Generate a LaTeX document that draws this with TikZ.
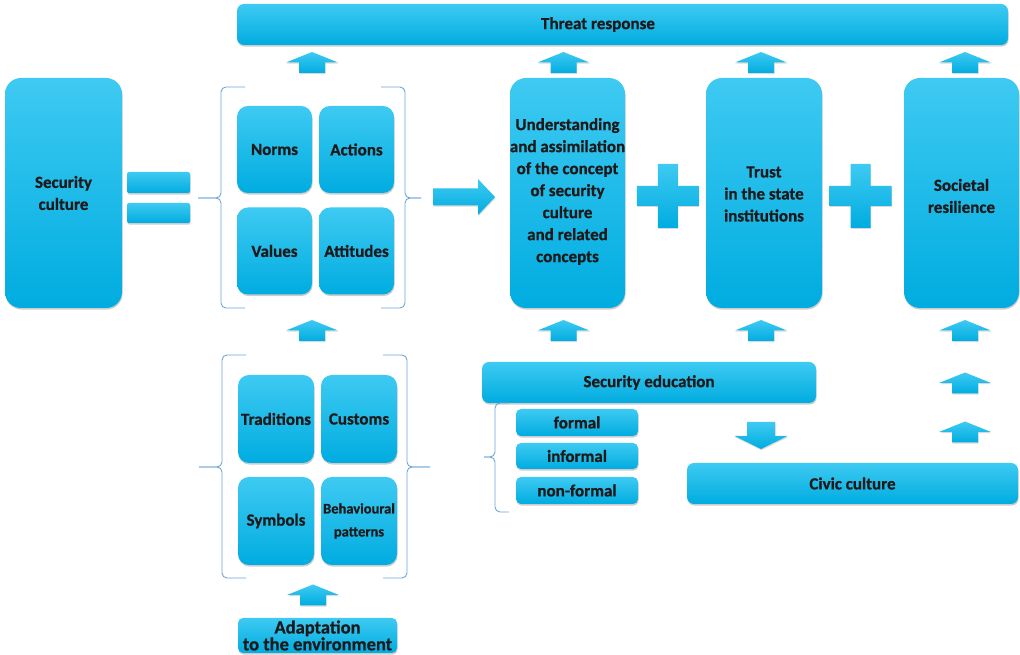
\documentclass[tikz,border=0pt]{standalone}
\usepackage{fontspec}
\setmainfont{Carlito}[BoldFeatures={FakeBold=0.8}]
\usetikzlibrary{shadows}
\definecolor{ctop}{RGB}{62,202,242}
\definecolor{cbot}{RGB}{0,172,224}
\definecolor{txt}{RGB}{30,26,27}
\definecolor{brc}{RGB}{110,165,215}
\begin{document}
\begin{tikzpicture}[x=1pt,y=1pt,
  box/.style={top color=ctop, bottom color=cbot, draw=none, rounded corners=#1,
    inner sep=0pt, text=txt, font=\fontsize{17}{22}\selectfont\bfseries, align=center,
    drop shadow={opacity=0.4, shadow xshift=0.6pt, shadow yshift=-1.6pt}},
  box/.default=8pt,
  wh/.style 2 args={minimum width=#1pt, minimum height=#2pt},
  lbl/.style={text=txt, font=\fontsize{17}{22}\selectfont\bfseries, align=center, inner sep=0pt},
  ashade/.style={top color=ctop, bottom color=cbot, draw=none,
    drop shadow={opacity=0.3, shadow xshift=0.5pt, shadow yshift=-1.2pt}},
  brace/.style={draw=brc, line width=0.9pt, rounded corners=5pt},
  uparr/.pic={\shade[ashade] (-13,-10.5) -- (-13,0) -- (-26,0) -- (0,10.5) -- (26,0) -- (13,0) -- (13,-10.5) -- cycle;}
]
\useasboundingbox (0,0) rectangle (1020,655);

% top bar
\node[box=7pt, wh={771}{41}] (threat) at (622.5,630.5) {};
\node[lbl] (threatlbl) at (598,630.5) {Threat response};

% security culture and equals
\node[box=16pt, wh={117}{230}] (sc) at (63.5,462) {Security\\culture};
\node[box=2pt, wh={63}{21}] (eq1) at (158.5,472.5) {};
\node[box=2pt, wh={63}{20}] (eq2) at (158.5,442) {};

% norms group
\node[box=11pt, wh={75}{87}] (norms) at (274.5,505.5) {Norms};
\node[box=11pt, wh={75}{87}] (actions) at (356.5,505.5) {Actions};
\node[box=11pt, wh={75}{87}] (values) at (274.5,404) {Values};
\node[box=11pt, wh={75}{87}] (attitudes) at (356.5,404) {Attitudes};

% braces norms
\draw[brace] (245,568) -- (221,568) -- (221,457) -- (198,457);
\draw[brace] (245,347) -- (221,347) -- (221,457) -- (198,457);
\draw[brace] (381,568) -- (405,568) -- (405,457) -- (421,457);
\draw[brace] (381,347) -- (405,347) -- (405,457) -- (421,457);

% big right arrow
\shade[ashade] (433,449.5) -- (478,449.5) -- (478,440) -- (495,458) -- (478,476) -- (478,466.5) -- (433,466.5) -- cycle;

% main column boxes
\node[box=16pt, wh={115}{230}] (und) at (567.5,462) {};
\node[lbl] (undlbl) at (567.5,463.5) {Understanding\\and assimilation\\of the concept\\of security\\culture\\and related\\concepts};
\node[box=16pt, wh={116}{230}] (trust) at (764,462) {};
\node[lbl] (trustlbl) at (764,461) {Trust\\in the state\\institutions};
\node[box=16pt, wh={115}{230}] (soc) at (961.5,462) {};
\node[lbl] (soclbl) at (961.5,459) {Societal\\resilience};

% plus signs
\foreach \cx/\nm in {667.8/p1, 860.7/p2}{
  \shade[ashade] (\cx-10,459.2+32) -- (\cx+10,459.2+32) -- (\cx+10,459.2+10) -- (\cx+31,459.2+10) -- (\cx+31,459.2-10) -- (\cx+10,459.2-10) -- (\cx+10,459.2-32) -- (\cx-10,459.2-32) -- (\cx-10,459.2-10) -- (\cx-31,459.2-10) -- (\cx-31,459.2+10) -- (\cx-10,459.2+10) -- cycle;
}

% up arrows
\pic (ua1) at (312,592.5) {uparr};
\pic (ua2) at (563.5,592.5) {uparr};
\pic (ua3) at (761,592.5) {uparr};
\pic (ua4) at (965,592.5) {uparr};
\pic (ub1) at (312,324.5) {uparr};
\pic (ub2) at (563.5,324.5) {uparr};
\pic (ub3) at (761,324.5) {uparr};
\pic (ub4) at (965,324.5) {uparr};
\pic (uc1) at (965,272) {uparr};
\pic (uc2) at (965,223) {uparr};
\pic (ud1) at (313,60) {uparr};

% security education
\node[box=7pt, wh={334}{41}] (sected) at (649,272.5) {Security education};
\node[box=5pt, wh={122}{27}] (formal) at (577,232.5) {formal};
\node[box=5pt, wh={122}{26}] (informal) at (577,199) {informal};
\node[box=5pt, wh={122}{27}] (nonformal) at (577,164.5) {non-formal};
\draw[brace] (509,252) -- (495,252) -- (495,198) -- (484,198);
\draw[brace] (509,143) -- (495,143) -- (495,198) -- (484,198);

% down arrow
\shade[ashade] (747,233) -- (775,233) -- (775,219) -- (787.5,219) -- (761,206) -- (734.5,219) -- (747,219) -- cycle;

% civic culture
\node[box=7pt, wh={331}{41}] (civic) at (852.5,171.5) {Civic culture};

% traditions group
\node[box=11pt, wh={76}{88}] (trad) at (276,236) {Traditions};
\node[box=11pt, wh={76}{88}] (cust) at (359,236) {Customs};
\node[box=11pt, wh={76}{88}] (sym) at (276,134) {Symbols};
\node[box=11pt, wh={76}{88}, font=\fontsize{14.5}{23}\selectfont\bfseries] (beh) at (359,134) {Behavioural\\patterns};
\draw[brace] (246,300) -- (222,300) -- (222,188) -- (199,188);
\draw[brace] (246,77) -- (222,77) -- (222,188) -- (199,188);
\draw[brace] (383,300) -- (407,300) -- (407,188) -- (430,188);
\draw[brace] (383,77) -- (407,77) -- (407,188) -- (430,188);

% adaptation
\node[box=5pt, wh={159}{35}, font=\fontsize{18.5}{15}\selectfont\bfseries] (adapt) at (317.5,19.5) {Adaptation\\to the environment};
\end{tikzpicture}
\end{document}
